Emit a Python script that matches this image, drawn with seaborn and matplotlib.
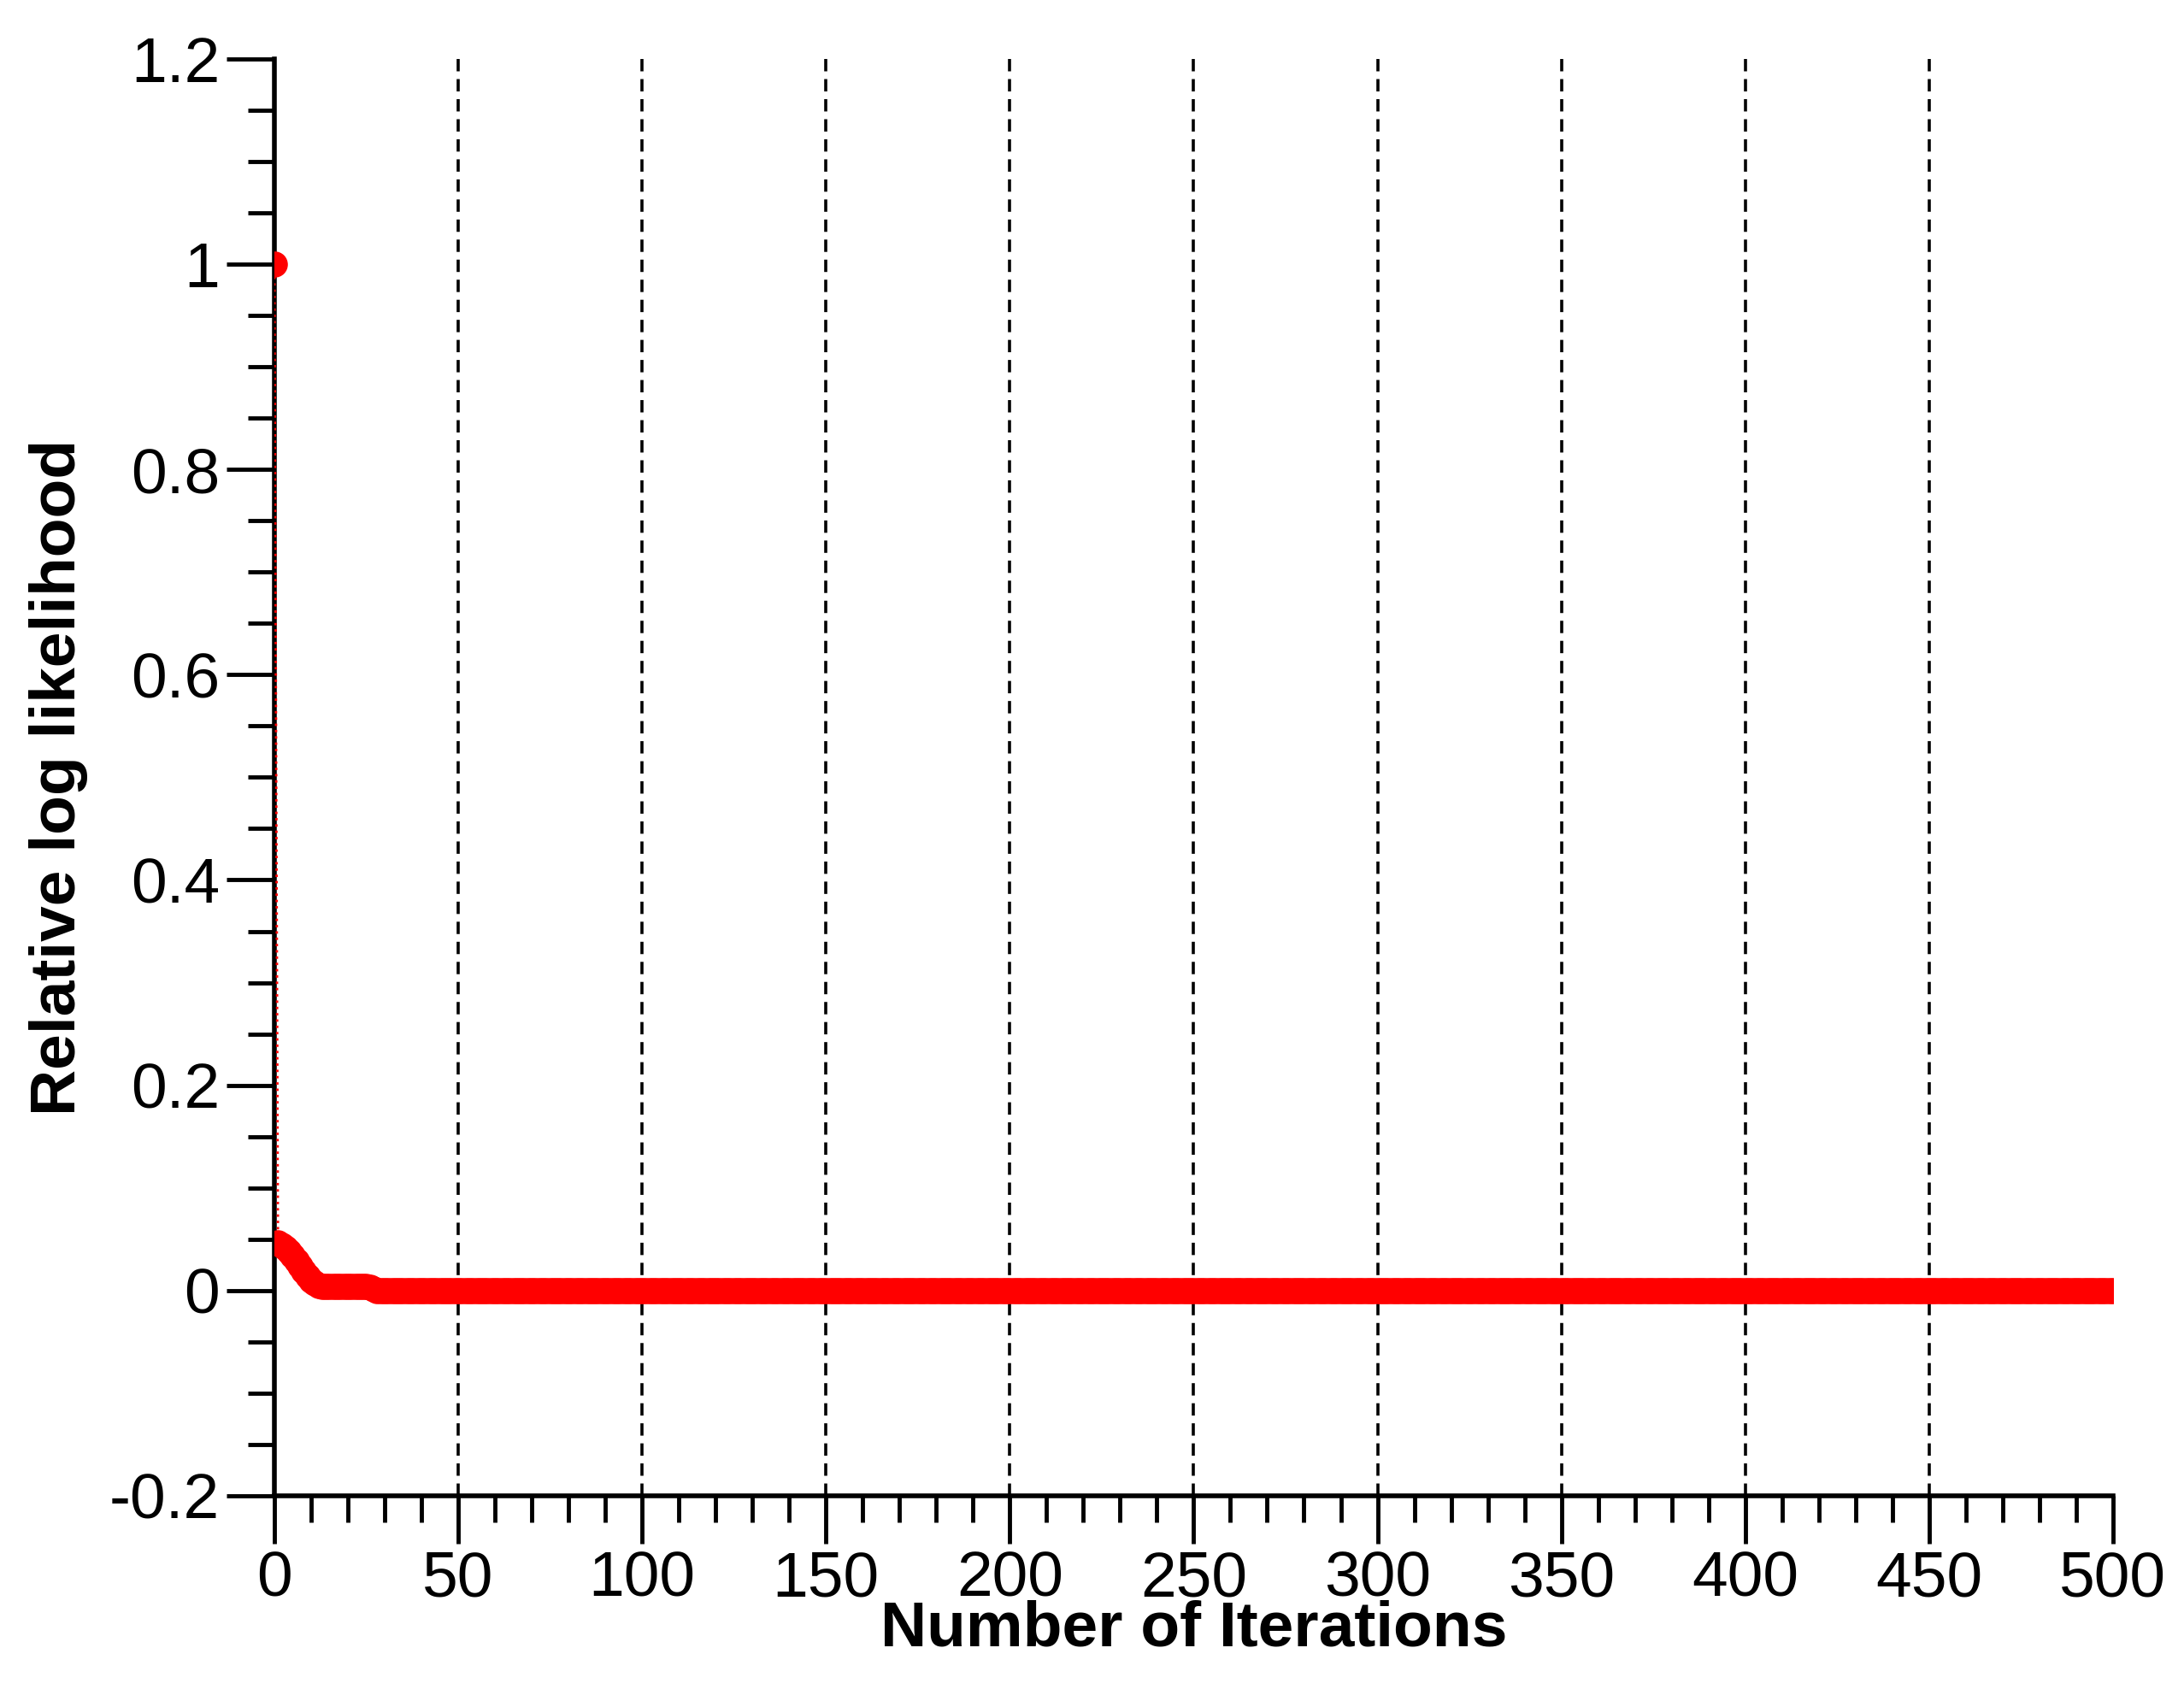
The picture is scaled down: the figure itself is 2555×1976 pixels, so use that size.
import matplotlib
matplotlib.use("Agg")
import matplotlib.pyplot as plt
import seaborn as sns
import pandas as pd
from matplotlib.ticker import MultipleLocator, FixedLocator

sns.set_style("white")
plt.rcParams['font.family'] = ['Liberation Sans', 'DejaVu Sans']
plt.rcParams['text.color'] = 'black'
plt.rcParams['axes.labelcolor'] = 'black'
plt.rcParams['xtick.color'] = 'black'
plt.rcParams['ytick.color'] = 'black'

early_iters = list(range(0, 28))
early_vals = [1.0, 0.046, 0.044, 0.041, 0.038, 0.034, 0.029, 0.024, 0.019, 0.014,
              0.010, 0.007, 0.005, 0.004, 0.004, 0.004, 0.004, 0.004, 0.004, 0.004,
              0.004, 0.004, 0.004, 0.004, 0.004, 0.004, 0.003, 0.001]
tail_iters = list(range(28, 501))
tail_vals = [0.0] * len(tail_iters)

x_ticks = [0, 50, 100, 150, 200, 250, 300, 350, 400, 450, 500]
y_ticks = [-0.2, 0, 0.2, 0.4, 0.6, 0.8, 1.0, 1.2]
y_labels = ["-0.2", "0", "0.2", "0.4", "0.6", "0.8", "1", "1.2"]

df = pd.DataFrame({"iter": early_iters + tail_iters, "val": early_vals + tail_vals})

fig = plt.figure(figsize=(25.55, 19.76), dpi=100)
ax = fig.add_axes([0.1256, 0.1145, 0.9675 - 0.1256, 0.965 - 0.1145])

for xv in x_ticks[1:-1]:
    ax.axvline(xv, color='black', linestyle=(0, (4, 2.5)), lw=2.6, zorder=1)

sns.lineplot(data=df, x="iter", y="val", ax=ax, color='red', linestyle=':', lw=2,
             marker='o', markersize=22, markeredgewidth=0, zorder=3)

ax.set_xlim(0, 500)
ax.set_ylim(-0.2, 1.2)
ax.xaxis.set_major_locator(FixedLocator(x_ticks))
ax.xaxis.set_minor_locator(MultipleLocator(10))
ax.yaxis.set_major_locator(FixedLocator(y_ticks))
ax.set_yticklabels(y_labels)
ax.yaxis.set_minor_locator(MultipleLocator(0.05))
ax.tick_params(axis='both', which='major', direction='out', length=40, width=3.5,
               labelsize=54, labelcolor='black', color='black', pad=6)
ax.tick_params(axis='both', which='minor', direction='out', length=22, width=3.5, color='black')
ax.tick_params(axis='x', which='both', bottom=True)
ax.tick_params(axis='y', which='both', left=True)

for s in ['top', 'right']:
    ax.spines[s].set_visible(False)
for s in ['left', 'bottom']:
    ax.spines[s].set_linewidth(4)
    ax.spines[s].set_color('black')

ax.set_xlabel("Number of Iterations", fontsize=54, fontweight='bold', labelpad=-8, color='black')
ax.set_ylabel("Relative log likelihood", fontsize=54, fontweight='bold', labelpad=18, color='black')

fig.savefig("out.png", dpi=100)
